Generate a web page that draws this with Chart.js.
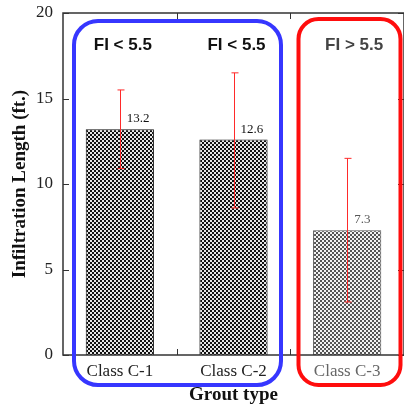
<!DOCTYPE html>
<html><head><meta charset="utf-8">
<script src="https://cdn.jsdelivr.net/npm/chart.js@4/dist/chart.umd.min.js"></script>
<style>html,body{margin:0;padding:0;background:#fff;}canvas{display:block;}</style>
</head><body>
<canvas id="c" width="404" height="409"></canvas>
<script>
const categories = ['Class C-1', 'Class C-2', 'Class C-3'];
const values = [13.2, 12.6, 7.3];
const errLow = [10.9, 8.6, 3.1];
const errHigh = [15.5, 16.5, 11.5];
const valueLabels = ['13.2', '12.6', '7.3'];
const groupLabels = ['FI < 5.5', 'FI < 5.5', 'FI > 5.5'];
const yTicks = [0, 5, 10, 15, 20];

const cv = document.getElementById('c');
const ctx = cv.getContext('2d');
function makePattern(dark, light) {
  const c = document.createElement('canvas'); c.width = 4; c.height = 4;
  const g = c.getContext('2d');
  g.fillStyle = light; g.fillRect(0, 0, 4, 4);
  g.fillStyle = dark; g.fillRect(0, 0, 2, 2); g.fillRect(2, 2, 2, 2);
  return ctx.createPattern(c, 'repeat');
}
const patDark = makePattern('#111', '#e6e6e6');
const patLight = makePattern('#555', '#f2f2f2');

const decor = {
  id: 'decor',
  afterDatasetsDraw(chart) {
    const {ctx, chartArea: a, scales: {x, y}} = chart;
    const meta = chart.getDatasetMeta(0);
    ctx.save();
    // error bars
    ctx.strokeStyle = '#ff2a2a'; ctx.lineWidth = 1;
    meta.data.forEach((bar, i) => {
      const cx = Math.round(bar.x) + 0.5;
      const t = y.getPixelForValue(errHigh[i]), b = y.getPixelForValue(errLow[i]);
      ctx.beginPath();
      ctx.moveTo(cx, t); ctx.lineTo(cx, b);
      ctx.moveTo(cx - 3, t); ctx.lineTo(cx + 4, t);
      ctx.moveTo(cx - 3, b); ctx.lineTo(cx + 4, b);
      ctx.stroke();
    });
    // value labels
    ctx.font = '13px "Liberation Serif", serif';
    ctx.textAlign = 'left'; ctx.textBaseline = 'alphabetic';
    meta.data.forEach((bar, i) => {
      ctx.fillStyle = i === 2 ? '#555' : '#111';
      ctx.fillText(valueLabels[i], bar.x + 7, bar.y - 7);
    });
    // frame
    ctx.strokeStyle = '#333'; ctx.lineWidth = 1.5;
    ctx.strokeRect(a.left, a.top, a.right - a.left, a.bottom - a.top);
    // inward ticks
    ctx.lineWidth = 1;
    yTicks.forEach(v => {
      const py = Math.round(y.getPixelForValue(v)) + 0.5;
      ctx.beginPath();
      ctx.moveTo(a.left, py); ctx.lineTo(a.left + 6, py);
      ctx.moveTo(a.right, py); ctx.lineTo(a.right - 6, py);
      ctx.stroke();
    });
    for (let i = 1; i < categories.length; i++) {
      const px = Math.round((x.getPixelForValue(i - 1) + x.getPixelForValue(i)) / 2) + 0.5;
      ctx.beginPath();
      ctx.moveTo(px, a.bottom); ctx.lineTo(px, a.bottom - 6);
      ctx.moveTo(px, a.top); ctx.lineTo(px, a.top + 6);
      ctx.stroke();
    }
    // group boxes
    function rr(x0, y0, x1, y1, r) {
      ctx.beginPath();
      ctx.moveTo(x0 + r, y0); ctx.lineTo(x1 - r, y0);
      ctx.arcTo(x1, y0, x1, y0 + r, r); ctx.lineTo(x1, y1 - r);
      ctx.arcTo(x1, y1, x1 - r, y1, r); ctx.lineTo(x0 + r, y1);
      ctx.arcTo(x0, y1, x0, y1 - r, r); ctx.lineTo(x0, y0 + r);
      ctx.arcTo(x0, y0, x0 + r, y0, r); ctx.closePath(); ctx.stroke();
    }
    ctx.lineWidth = 4;
    ctx.strokeStyle = '#3636ff';
    rr(74, 21, 281, 385, 24);
    ctx.strokeStyle = '#ff0d0d';
    rr(298.5, 19, 400.5, 385, 20);
    // group labels
    ctx.font = 'bold 17px "Liberation Sans", Arial, sans-serif';
    ctx.textAlign = 'center'; ctx.textBaseline = 'middle';
    meta.data.forEach((bar, i) => {
      ctx.fillStyle = i === 2 ? '#444' : '#111';
      ctx.fillText(groupLabels[i], bar.x + (i === 2 ? 7 : 3), 45);
    });
    ctx.restore();
  }
};

new Chart(cv, {
  type: 'bar',
  data: {
    labels: categories,
    datasets: [{
      data: values,
      backgroundColor: [patDark, patDark, patLight],
      borderColor: ['#111', '#111', '#555'],
      borderWidth: 1,
      borderSkipped: 'bottom',
      barPercentage: 0.6,
      categoryPercentage: 1.0
    }]
  },
  options: {
    responsive: false,
    animation: false,
    devicePixelRatio: 1,
    layout: {padding: {top: 13, right: 0, left: 0, bottom: 0}},
    plugins: {legend: {display: false}, tooltip: {enabled: false}},
    scales: {
      x: {
        afterFit(s) { s.height = 54; s.paddingLeft = 0; s.paddingRight = 0; },
        grid: {display: false, drawTicks: false},
        border: {display: false},
        ticks: {
          padding: 6,
          font: {family: '"Liberation Serif", serif', size: 17},
          color: c => c.index === 2 ? '#666' : '#222'
        },
        title: {
          display: true, text: 'Grout type', color: '#111',
          font: {family: '"Liberation Serif", serif', size: 19, weight: 'bold'},
          padding: {top: 0, bottom: 3}
        }
      },
      y: {
        min: 0, max: 20,
        afterFit(s) { s.width = 63; s.paddingTop = 0; s.paddingBottom = 0; },
        afterBuildTicks(s) { s.ticks = yTicks.map(v => ({value: v})); },
        grid: {display: false, drawTicks: false},
        border: {display: false},
        ticks: {
          padding: 10,
          font: {family: '"Liberation Serif", serif', size: 17},
          color: '#222'
        },
        title: {
          display: true, text: 'Infiltration Length (ft.)', color: '#111',
          font: {family: '"Liberation Serif", serif', size: 19, weight: 'bold'},
          padding: {top: 9, bottom: 0}
        }
      }
    }
  },
  plugins: [decor]
});
</script>
</body></html>
